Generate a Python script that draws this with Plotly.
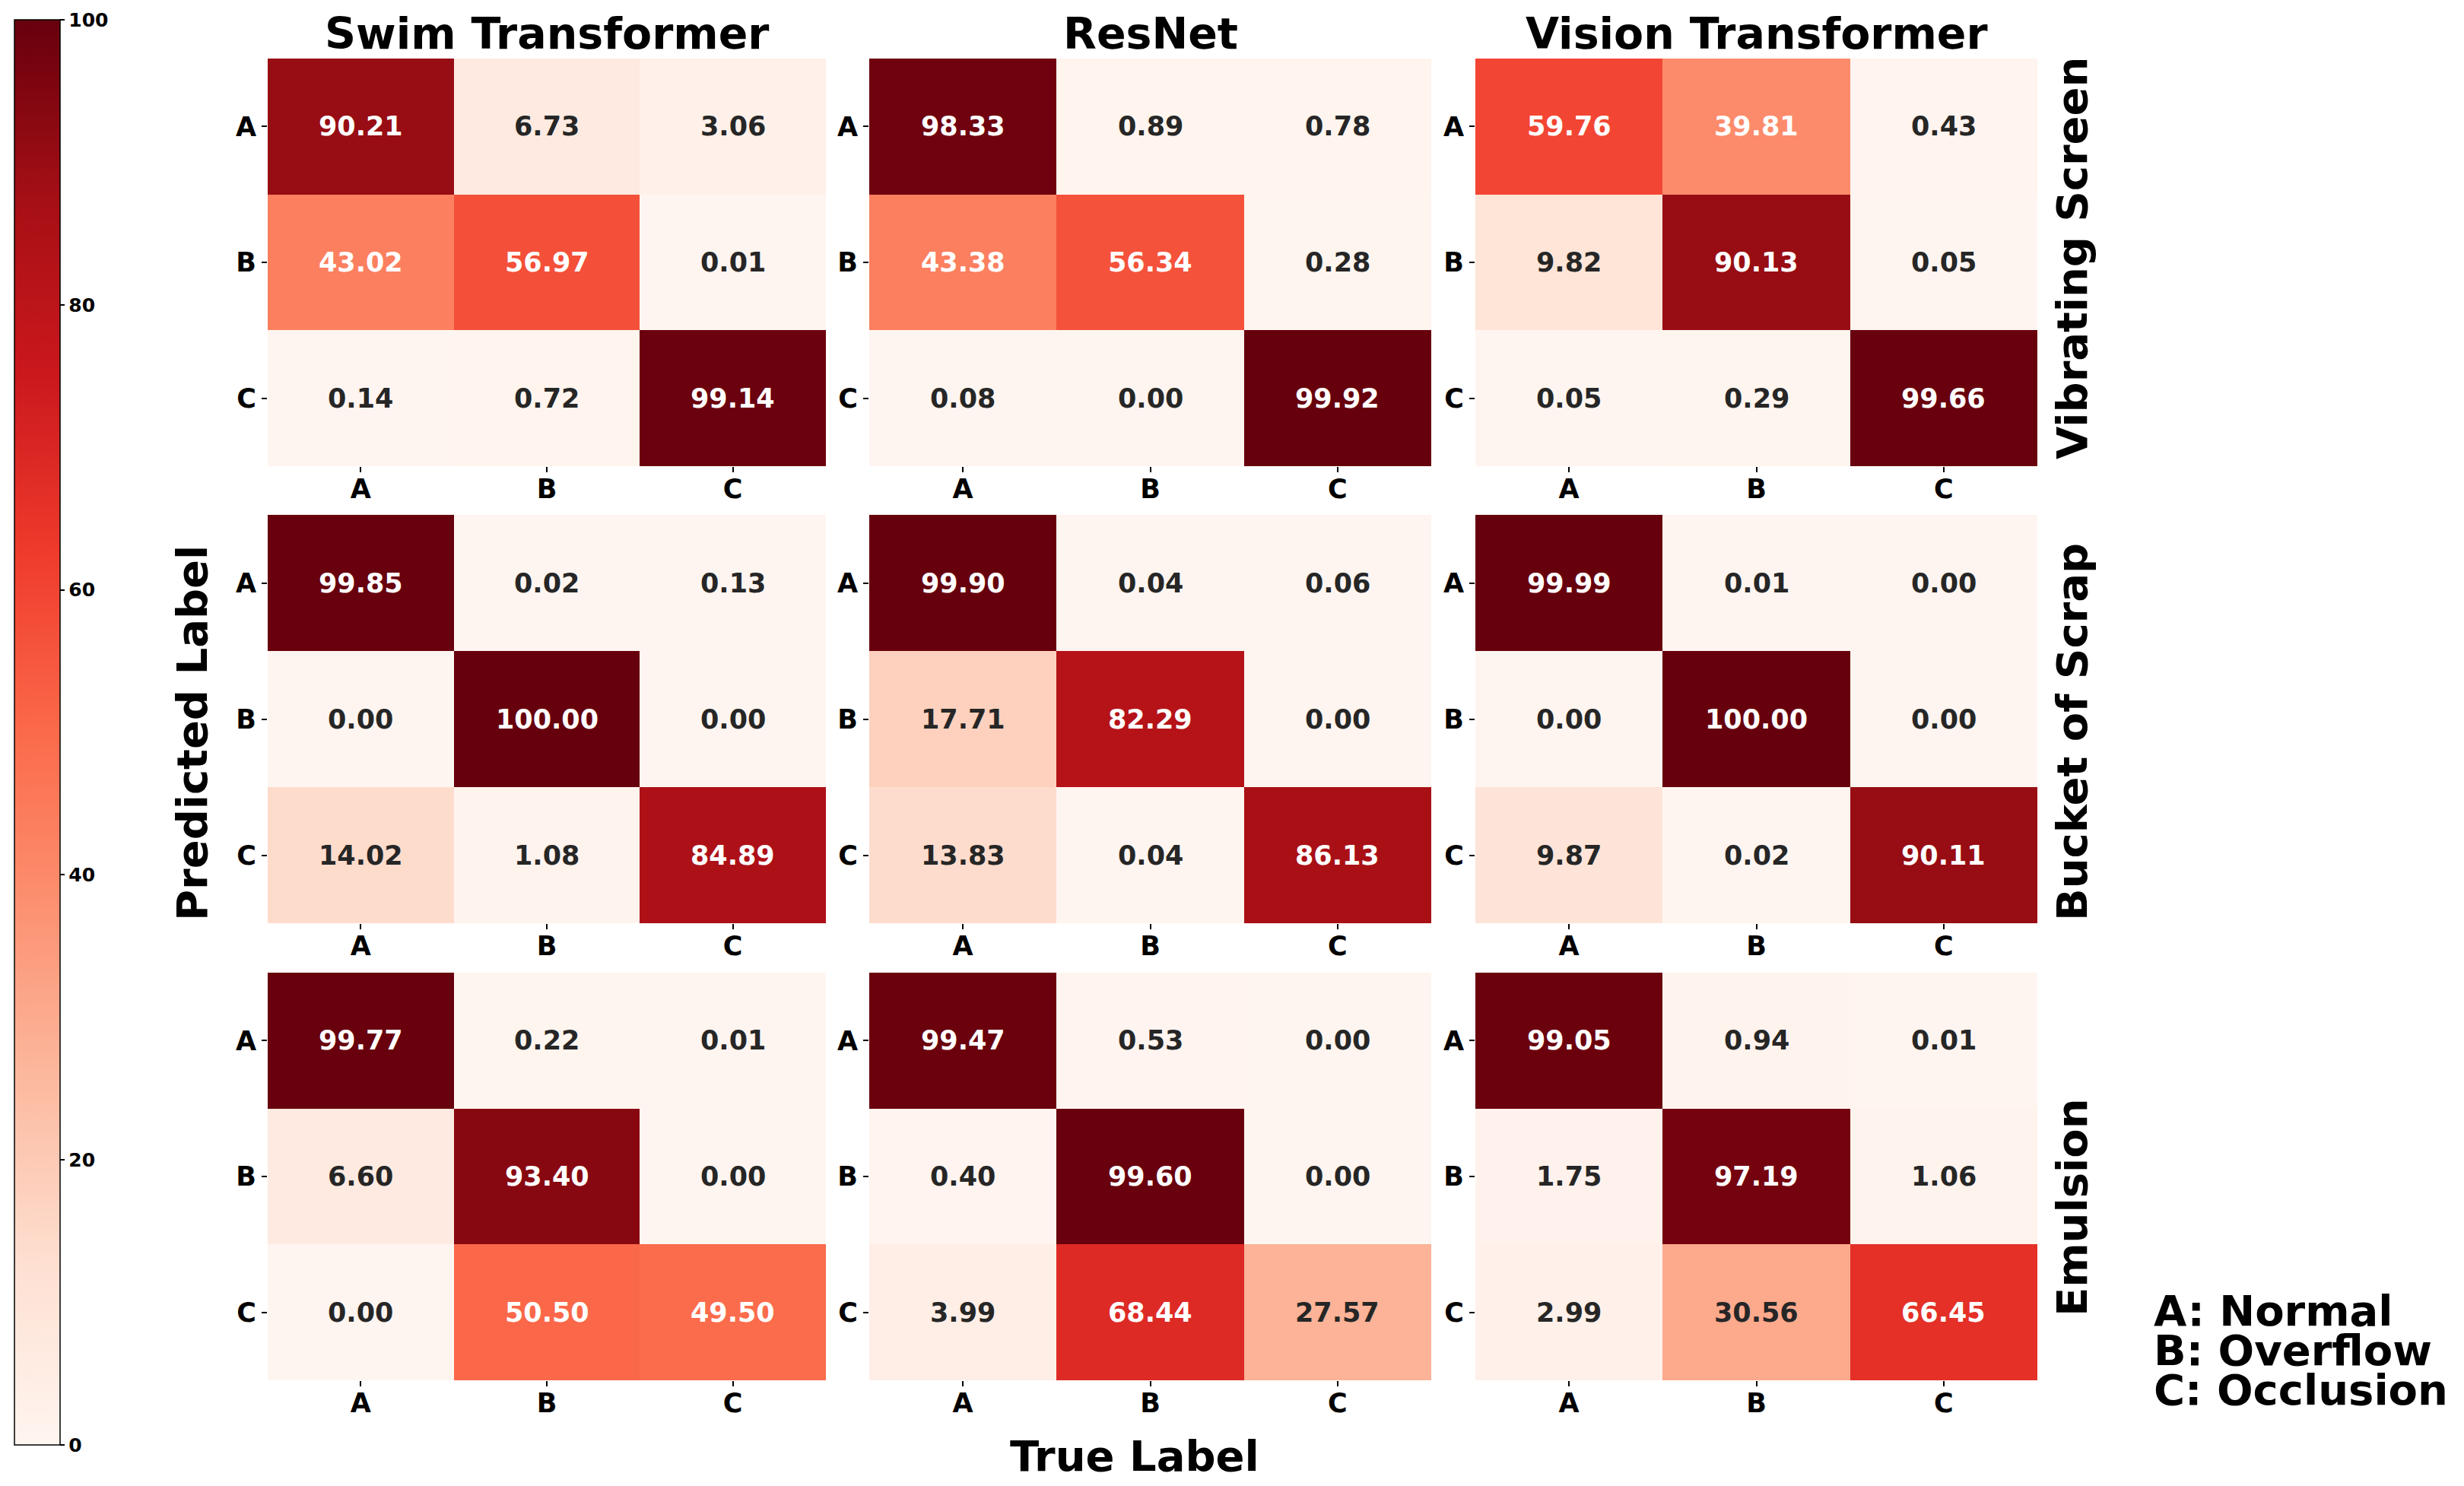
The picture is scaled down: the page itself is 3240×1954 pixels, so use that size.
import plotly.graph_objects as go
from plotly.colors import sequential, sample_colorscale, unlabel_rgb

# ---------------- data ----------------
classes = ["A", "B", "C"]
models = ["Swim Transformer", "ResNet", "Vision Transformer"]
datasets = ["Vibrating Screen", "Bucket of Scrap", "Emulsion"]
legend_lines = ["A: Normal", "B: Overflow", "C: Occlusion"]
cbar_ticks = [0, 20, 40, 60, 80, 100]

# rows = predicted label (A,B,C), cols = true label (A,B,C)
vib_swin = [[90.21, 6.73, 3.06], [43.02, 56.97, 0.01], [0.14, 0.72, 99.14]]
vib_resnet = [[98.33, 0.89, 0.78], [43.38, 56.34, 0.28], [0.08, 0.00, 99.92]]
vib_vit = [[59.76, 39.81, 0.43], [9.82, 90.13, 0.05], [0.05, 0.29, 99.66]]

bucket_swin = [[99.85, 0.02, 0.13], [0.00, 100.00, 0.00], [14.02, 1.08, 84.89]]
bucket_resnet = [[99.90, 0.04, 0.06], [17.71, 82.29, 0.00], [13.83, 0.04, 86.13]]
bucket_vit = [[99.99, 0.01, 0.00], [0.00, 100.00, 0.00], [9.87, 0.02, 90.11]]

emul_swin = [[99.77, 0.22, 0.01], [6.60, 93.40, 0.00], [0.00, 50.50, 49.50]]
emul_resnet = [[99.47, 0.53, 0.00], [0.40, 99.60, 0.00], [3.99, 68.44, 27.57]]
emul_vit = [[99.05, 0.94, 0.01], [1.75, 97.19, 1.06], [2.99, 30.56, 66.45]]

grid = [
    [vib_swin, vib_resnet, vib_vit],
    [bucket_swin, bucket_resnet, bucket_vit],
    [emul_swin, emul_resnet, emul_vit],
]

# ---------------- layout geometry (target page pixels) ----------------
PAGE_W, PAGE_H = 3240, 1954
OFF = 8  # default body margin of the html page
W, H = PAGE_W - 2 * OFF, PAGE_H - 2 * OFF
col_px = [(352, 1086), (1143, 1882), (1940, 2679)]
row_px = [(77, 613), (677, 1214), (1279, 1815)]
row_label_y = [340, 963, 1588]

FONT = "DejaVu Sans"
scale = [[i / (len(sequential.Reds) - 1), c] for i, c in enumerate(sequential.Reds)]


def px_x(v):
    return (v - OFF) / W


def px_y(v):
    return 1 - (v - OFF) / H


def text_color(val):
    c = sample_colorscale(scale, [val / 100.0])[0]
    r, g, b = unlabel_rgb(c)

    def lin(u):
        u = u / 255.0
        return u / 12.92 if u <= 0.03928 else ((u + 0.055) / 1.055) ** 2.4

    lum = 0.2126 * lin(r) + 0.7152 * lin(g) + 0.0722 * lin(b)
    return "#262626" if lum > 0.408 else "white"


fig = go.Figure()
annotations = []

for r in range(3):
    for c in range(3):
        n = r * 3 + c + 1
        xa = "x" if n == 1 else f"x{n}"
        ya = "y" if n == 1 else f"y{n}"
        z = grid[r][c]
        fig.add_trace(go.Heatmap(
            z=z, x=classes, y=classes, coloraxis="coloraxis",
            xaxis=xa, yaxis=ya, hoverinfo="skip",
        ))
        ax_kw = dict(
            ticks="outside", ticklen=7, tickwidth=2, tickcolor="black",
            showgrid=False, zeroline=False, showline=False,
            tickfont=dict(family=FONT, size=35, color="black", weight="bold"),
            fixedrange=True,
        )
        fig.layout[("xaxis" if n == 1 else f"xaxis{n}")] = dict(
            domain=[px_x(col_px[c][0]), px_x(col_px[c][1])],
            anchor=ya, type="category", ticklabelstandoff=-8, **ax_kw)
        fig.layout[("yaxis" if n == 1 else f"yaxis{n}")] = dict(
            domain=[px_y(row_px[r][1]), px_y(row_px[r][0])],
            anchor=xa, type="category", autorange="reversed", **ax_kw)
        for i, yl in enumerate(classes):
            for j, xl in enumerate(classes):
                v = z[i][j]
                annotations.append(dict(
                    x=xl, y=yl, xref=xa, yref=ya, text=f"{v:.2f}",
                    showarrow=False,
                    font=dict(family=FONT, size=35, color=text_color(v), weight="bold"),
                ))

# column titles
for c, name in enumerate(models):
    annotations.append(dict(
        x=px_x((col_px[c][0] + col_px[c][1]) / 2), y=px_y(44),
        xref="paper", yref="paper", text=name, showarrow=False,
        xanchor="center", yanchor="middle",
        font=dict(family=FONT, size=57, color="black", weight="bold"),
    ))

# row labels (right side)
for r, name in enumerate(datasets):
    annotations.append(dict(
        x=px_x(2724), y=px_y(row_label_y[r]),
        xref="paper", yref="paper", text=name, showarrow=False,
        textangle=-90, xanchor="center", yanchor="middle",
        font=dict(family=FONT, size=56, color="black", weight="bold"),
    ))

# axis labels
annotations.append(dict(
    x=px_x(252), y=px_y(964), xref="paper", yref="paper",
    text="Predicted Label", showarrow=False, textangle=-90,
    xanchor="center", yanchor="middle",
    font=dict(family=FONT, size=56, color="black", weight="bold"),
))
annotations.append(dict(
    x=px_x(1492), y=px_y(1914), xref="paper", yref="paper",
    text="True Label", showarrow=False,
    xanchor="center", yanchor="middle",
    font=dict(family=FONT, size=56, color="black", weight="bold"),
))

# class legend text
legend_y = [1723, 1775, 1827]
for k, line in enumerate(legend_lines):
    annotations.append(dict(
        x=px_x(2830), y=px_y(legend_y[k]), xref="paper", yref="paper",
        text=line, showarrow=False, xanchor="left", yanchor="middle",
        font=dict(family=FONT, size=56, color="black", weight="bold"),
    ))

fig.update_layout(
    width=W, height=H,
    margin=dict(l=0, r=0, t=0, b=0),
    paper_bgcolor="white", plot_bgcolor="white",
    annotations=annotations,
    coloraxis=dict(
        colorscale=scale, cmin=0, cmax=100,
        colorbar=dict(
            x=px_x(19), xanchor="left", xpad=0, ypad=0,
            y=px_y(26), yanchor="top",
            len=(1900 - 26) / H, lenmode="fraction",
            thickness=60, thicknessmode="pixels",
            outlinewidth=1.5, outlinecolor="black",
            tickvals=cbar_ticks, ticks="outside", ticklen=6, tickwidth=1.5,
            tickcolor="black",
            tickfont=dict(family=FONT, size=25, color="black", weight="bold"),
        ),
    ),
    showlegend=False,
)

fig.write_html("out.html")
